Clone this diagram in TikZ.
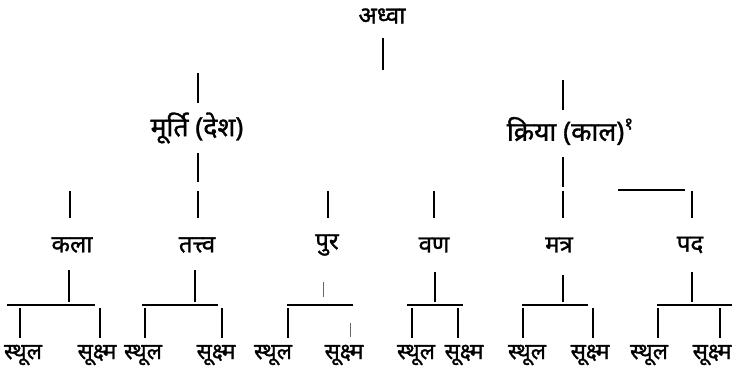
\documentclass[tikz,border=0pt]{standalone}
\usepackage{fontspec}
\newfontfamily\deva[Script=Devanagari,FakeBold=1.2]{Noto Sans}
\begin{document}
\begin{tikzpicture}[x=1pt,y=-1pt,
  lbl/.style={font=\deva\fontsize{24}{28}\selectfont, inner sep=0pt, anchor=center},
  big/.style={lbl, font=\deva\fontsize{26.5}{30}\selectfont},
  leaf/.style={lbl, font=\deva\fontsize{22.5}{27}\selectfont},
  ln/.style={line width=1.8pt, line cap=butt},
  hln/.style={line width=1.5pt},
  faint/.style={line width=1pt, black!60}]
\useasboundingbox (0,0) rectangle (740,387);
% nodes
\node[lbl] (root) at (382,16) {अध्वा};
\node[big] (murti) at (197,128) {मूर्ति (देश)};
\node[big] (kriya) at (570,131) {क्रिया (काल)\raisebox{0.8ex}{\fontsize{17}{18}\selectfont १}};
\node[lbl] (kala) at (72,245) {कला};
\node[lbl] (tattva) at (197,245) {तत्त्व};
\node[lbl] (pura) at (327,245) {पुर};
\node[lbl] (varna) at (434,245) {वण};
\node[lbl] (mantra) at (559,245) {मत्र};
\node[lbl] (pada) at (690,245) {पद};
\foreach \n/\x/\t in {a1/23/स्थूल, a2/97/सूक्ष्म, b1/143/स्थूल, b2/216/सूक्ष्म, c1/273/स्थूल, c2/344/सूक्ष्म, d1/416/स्थूल, d2/464/सूक्ष्म, e1/527/स्थूल, e2/590/सूक्ष्म, f1/649/स्थूल, f2/712/सूक्ष्म}
  \node[leaf] (leaf\n) at (\x,355) {\t};
% coordinates
\coordinate (r1) at (383,38); \coordinate (r2) at (383,70);
\coordinate (m1) at (198,73); \coordinate (m2) at (198,103);
\coordinate (m3) at (198,153); \coordinate (m4) at (198,182);
\coordinate (k1) at (563,80); \coordinate (k2) at (563,110);
\coordinate (k3) at (563,157); \coordinate (k4) at (563,187);
\coordinate (h1) at (618,190); \coordinate (h2) at (685,190);
\draw[ln] (r1) -- (r2);
\draw[ln] (m1) -- (m2);
\draw[ln] (m3) -- (m4);
\draw[ln] (k1) -- (k2);
\draw[ln] (k3) -- (k4);
\draw[hln] (h1) -- (h2);
% level-3 top stubs
\foreach \n/\x in {kala/70, tattva/198, pura/328, varna/434, mantra/563, pada/692} {
  \coordinate (t\n1) at (\x,191); \coordinate (t\n2) at (\x,218);
  \draw[ln] (t\n1) -- (t\n2);
}
% group stubs
\foreach \n/\x/\ya in {kala/69/270, tattva/195/270, varna/435/272, mantra/563/275, pada/692/272} {
  \coordinate (g\n1) at (\x,\ya); \coordinate (g\n2) at (\x,302);
  \draw[ln] (g\n1) -- (g\n2);
}
\coordinate (gpura1) at (323,282); \coordinate (gpura2) at (323,297);
\draw[faint] (gpura1) -- (gpura2);
% horizontals
\foreach \n/\xa/\xb in {kala/7/95, tattva/142/218, pura/287/353, varna/407/463, mantra/522/588, pada/657/732} {
  \coordinate (b\n1) at (\xa,305); \coordinate (b\n2) at (\xb,305);
  \draw[hln] (b\n1) -- (b\n2);
}
% leaf stubs
\foreach \n/\x in {a1/20, a2/100, b1/145, b2/222, c1/288, d1/412, d2/458, e1/523, e2/593, f1/658, f2/720} {
  \coordinate (s\n1) at (\x,308); \coordinate (s\n2) at (\x,338);
  \draw[ln] (s\n1) -- (s\n2);
}
\coordinate (sc21) at (350,323); \coordinate (sc22) at (350,337);
\draw[faint] (sc21) -- (sc22);
\end{tikzpicture}
\end{document}
